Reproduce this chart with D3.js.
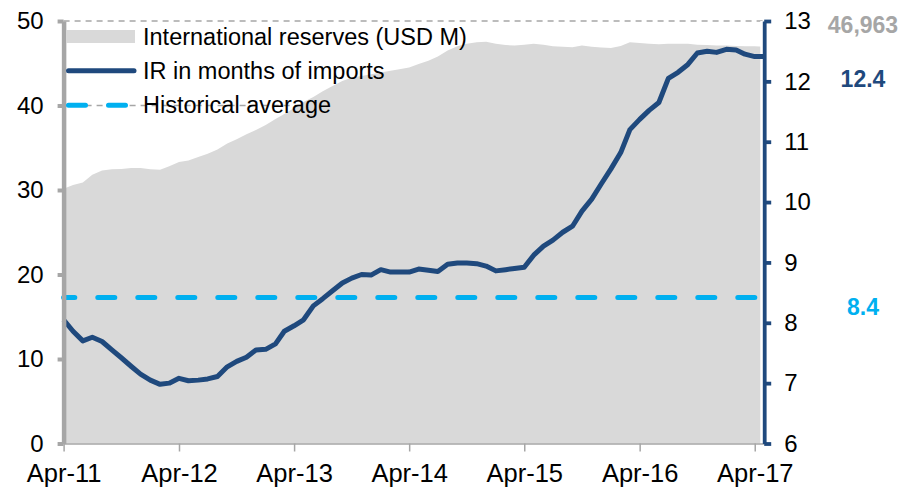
<!DOCTYPE html>
<html><head><meta charset="utf-8">
<script src="https://cdn.jsdelivr.net/npm/d3@7"></script>
<style>body{margin:0;background:#fff}svg{display:block;font-family:"Liberation Sans",Arial,sans-serif}</style>
</head><body><svg id="c" width="904" height="488"></svg>
<script>
// ---- data (monthly, Apr-11 .. May-17) ----
const firstMonth = [2011, 3]; // April 2011
const reserves = [ // international reserves, USD bn (thousands of USD M)
  30.15,30.6,30.9,31.8,32.3,32.45,32.5,32.6,32.6,32.45,
  32.4,32.8,33.3,33.5,33.9,34.3,34.8,35.5,36.0,36.6,
  37.1,37.7,38.4,39.0,39.7,40.4,41.0,41.7,42.3,42.9,
  43.3,43.5,43.7,43.9,44.1,44.3,44.5,44.9,45.3,45.8,
  46.5,47.0,47.3,47.5,47.55,47.3,47.15,47.1,47.2,47.3,
  47.2,47.0,46.95,46.9,47.1,46.95,46.85,46.8,47.05,47.5,
  47.4,47.3,47.25,47.3,47.3,47.3,47.2,47.15,47.1,47.1,
  47.05,47.0,47.0,46.963];
const irMonths = [ // IR in months of imports
  8.05,7.86,7.70,7.76,7.69,7.55,7.42,7.28,7.15,7.05,
  6.98,7.00,7.08,7.04,7.05,7.07,7.11,7.27,7.36,7.43,
  7.55,7.56,7.65,7.86,7.95,8.05,8.28,8.40,8.53,8.66,
  8.74,8.80,8.79,8.88,8.84,8.84,8.84,8.89,8.87,8.85,
  8.97,8.99,8.99,8.98,8.94,8.86,8.88,8.90,8.92,9.12,
  9.27,9.37,9.50,9.60,9.85,10.05,10.30,10.55,10.82,11.20,
  11.37,11.52,11.65,12.05,12.15,12.28,12.47,12.50,12.48,12.53,
  12.52,12.45,12.41,12.41];
const histAvg = 8.42;
const leftTicks = [0,10,20,30,40,50];
const rightTicks = [6,7,8,9,10,11,12,13];
const xTickYears = [2011,2012,2013,2014,2015,2016,2017];
const legendLabels = ["International reserves (USD M)","IR in months of imports","Historical average"];

// ---- colours ----
const cArea = "#D9D9D9", cLine = "#1F497D", cAvg = "#00B0F0", cGrey = "#A6A6A6";

const months = reserves.map((_, i) => new Date(firstMonth[0], firstMonth[1] + i, 1));
const svg = d3.select("#c");

const x = d3.scaleTime().domain([months[0], months[months.length - 1]]).range([63.6, 764.2]);
const yL = d3.scaleLinear().domain([0, 50]).range([443.5, 21]);
const yR = d3.scaleLinear().domain([6, 13]).range([443.5, 21]);

// gridlines (dashed, beneath the area)
svg.append("g").selectAll("line").data(leftTicks.filter(d => d > 0)).join("line")
  .attr("x1", x.range()[0]).attr("x2", x.range()[1])
  .attr("y1", d => yL(d)).attr("y2", d => yL(d))
  .attr("stroke", cGrey).attr("stroke-width", 1.3).attr("stroke-dasharray", "6,5");

// area
svg.append("path").datum(reserves)
  .attr("d", d3.area().x((d, i) => x(months[i])).y0(yL(0)).y1(d => yL(d)))
  .attr("fill", cArea);

// white gap before right axis
svg.append("rect").attr("x", 760.3).attr("y", yL(50)).attr("width", 3).attr("height", yL(0) - yL(50)).attr("fill", "#fff");

// x axis
const xAxis = d3.axisBottom(x)
  .tickValues(xTickYears.map(y => new Date(y, 3, 1)))
  .tickFormat(d3.timeFormat("%b-%y")).tickSize(8).tickSizeOuter(0);
const gx = svg.append("g").attr("transform", `translate(0,${yL(0)})`).call(xAxis);
gx.select(".domain").attr("stroke", cGrey).attr("stroke-width", 1.5);
gx.selectAll(".tick line").attr("stroke", cGrey).attr("stroke-width", 1.5);
gx.selectAll(".tick text").attr("font-size", 25.5).attr("fill", "#000")
  .attr("font-family", "Liberation Sans, Arial, sans-serif").attr("dy", null).attr("y", 38);

// historical average (dashed)
svg.append("line")
  .attr("x1", x.range()[0]).attr("x2", x.range()[1] - 2)
  .attr("y1", yR(histAvg)).attr("y2", yR(histAvg))
  .attr("stroke", cAvg).attr("stroke-width", 5).attr("stroke-linecap", "round")
  .attr("stroke-dasharray", "17,23").attr("stroke-dashoffset", 5.8);

// IR line
svg.append("path").datum(irMonths)
  .attr("d", d3.line().x((d, i) => x(months[i])).y(d => yR(d)))
  .attr("fill", "none").attr("stroke", cLine).attr("stroke-width", 5)
  .attr("stroke-linejoin", "round");

// left axis
const gl = svg.append("g").attr("transform", `translate(${x.range()[0]},0)`)
  .call(d3.axisLeft(yL).tickValues(leftTicks).tickFormat(d3.format("d")).tickSize(6).tickSizeOuter(0).tickPadding(14));
gl.select(".domain").attr("stroke", cGrey).attr("stroke-width", 4.5);
gl.selectAll(".tick line").attr("stroke", cGrey).attr("stroke-width", 4);
gl.selectAll(".tick text").attr("font-size", 24).attr("fill", "#000")
  .attr("font-family", "Liberation Sans, Arial, sans-serif");

// right axis
const gr = svg.append("g").attr("transform", `translate(${x.range()[1]},0)`)
  .call(d3.axisRight(yR).tickValues(rightTicks).tickFormat(d3.format("d")).tickSize(7).tickSizeOuter(0).tickPadding(13));
gr.select(".domain").attr("stroke", cLine).attr("stroke-width", 3.8);
gr.selectAll(".tick line").attr("stroke", cLine).attr("stroke-width", 3.8);
gr.selectAll(".tick text").attr("font-size", 24).attr("fill", "#000")
  .attr("font-family", "Liberation Sans, Arial, sans-serif");

// end-value labels
const fmt = d3.format(",");
const lastRes = reserves[reserves.length - 1], lastIR = irMonths[irMonths.length - 1];
const valLabels = [
  {t: fmt(Math.round(lastRes * 1000)), c: cGrey, y: 33},
  {t: lastIR.toFixed(1), c: cLine, y: 87},
  {t: histAvg.toFixed(1), c: cAvg, y: 315}
];
svg.append("g").selectAll("text").data(valLabels).join("text")
  .attr("x", 863).attr("y", d => d.y).attr("text-anchor", "middle")
  .attr("font-size", 23).attr("font-weight", "bold").attr("fill", d => d.c).text(d => d.t);

// legend
const lg = svg.append("g");
lg.append("rect").attr("x", 66).attr("y", 30).attr("width", 69).attr("height", 13).attr("fill", cArea);
lg.append("line").attr("x1", 68.5).attr("x2", 134).attr("y1", 70.7).attr("y2", 70.7)
  .attr("stroke", cLine).attr("stroke-width", 5).attr("stroke-linecap", "round");
lg.append("line").attr("x1", 68.5).attr("x2", 126).attr("y1", 105.3).attr("y2", 105.3)
  .attr("stroke", cAvg).attr("stroke-width", 5).attr("stroke-linecap", "round")
  .attr("stroke-dasharray", "17,23");
lg.selectAll("text").data(legendLabels).join("text")
  .attr("x", 143).attr("y", (d, i) => 45 + i * 34.2)
  .attr("font-size", 23.5).attr("fill", "#000").text(d => d);
</script></body></html>
